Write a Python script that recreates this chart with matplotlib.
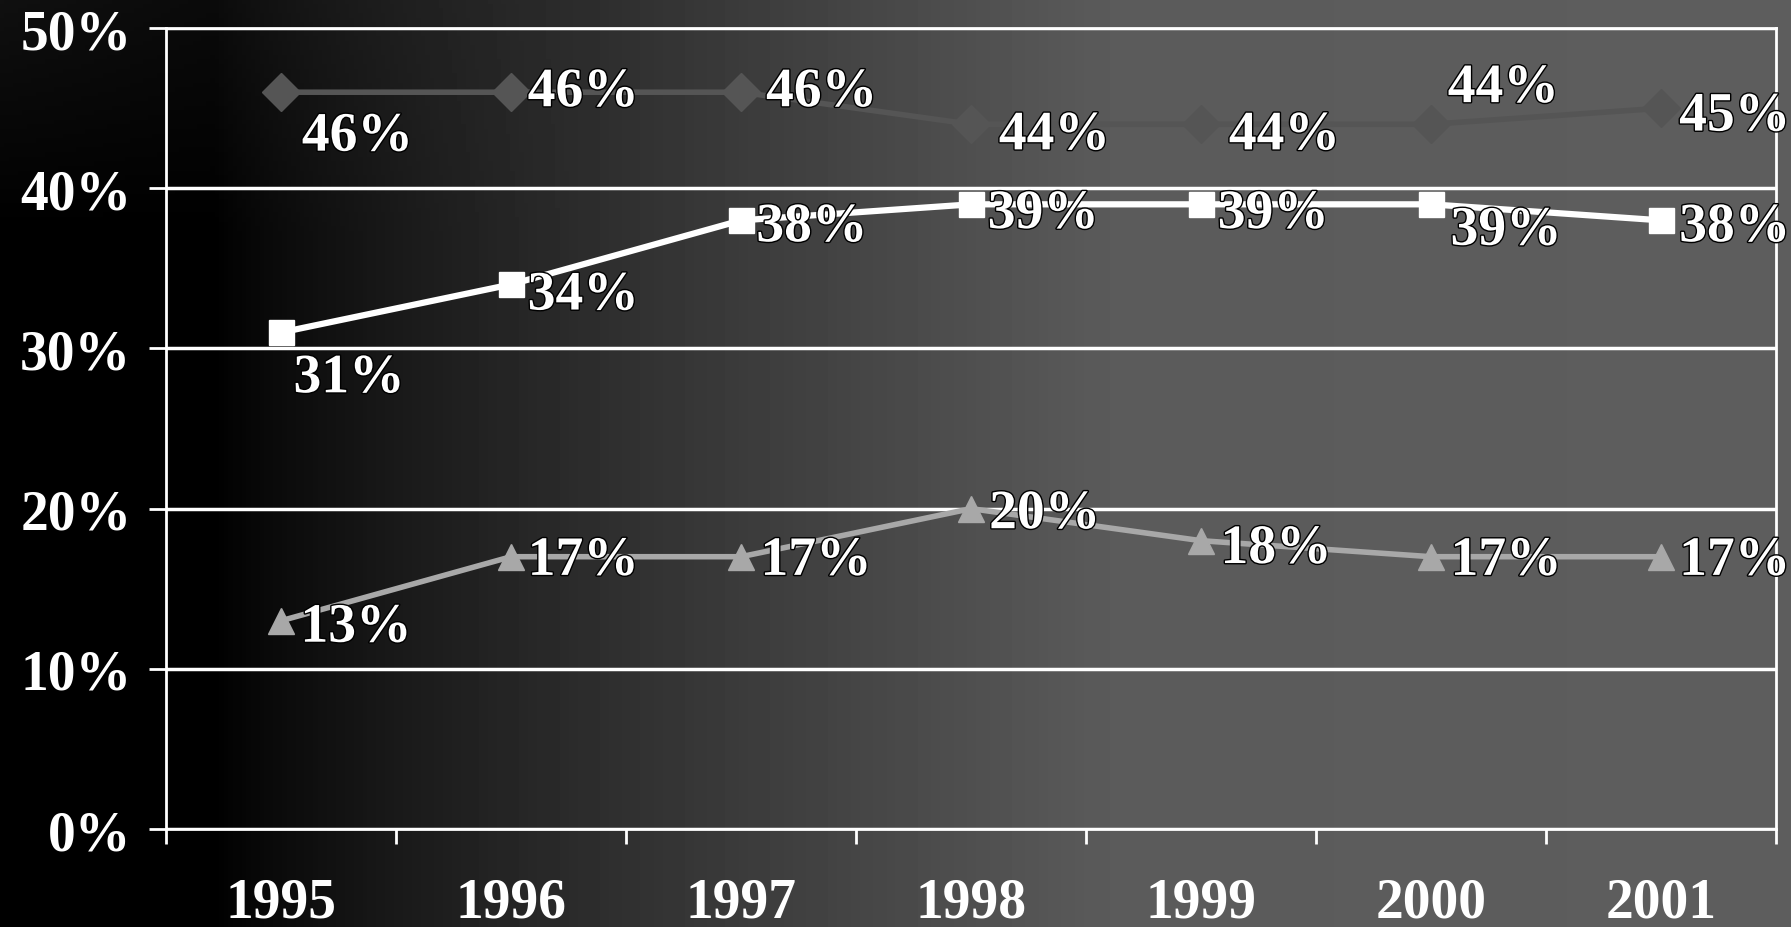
import matplotlib.pyplot as plt
import matplotlib.patheffects as pe
import numpy as np

# Data
years = ['1995', '1996', '1997', '1998', '1999', '2000', '2001']
diamond_vals = [46, 46, 46, 44, 44, 44, 45]
square_vals = [31, 34, 38, 39, 39, 39, 38]
triangle_vals = [13, 17, 17, 20, 18, 17, 17]
y_ticks = [0, 10, 20, 30, 40, 50]

# label offsets in points (dx to left edge, dy to centre)
diamond_offsets = [(15, -32), (12, 0), (18, 0), (20, -8), (20, -8), (12, 26), (13, -6)]
square_offsets = [(9, -33), (12, -8), (11, -5), (12, -7), (12, -7), (14, -19), (13, -5)]
triangle_offsets = [(14, -5), (12, -3), (14, -3), (13, -4), (14, -6), (14, -3), (13, -3)]

plt.rcParams['font.family'] = ['Liberation Serif', 'DejaVu Serif']
plt.rcParams['font.weight'] = 'bold'

fig = plt.figure(figsize=(17.91, 9.28), dpi=100)

# Background gradient, black on the left to grey on the right
bg = fig.add_axes([0, 0, 1, 1])
gx = np.linspace(0, 1, 400)
gy = np.linspace(0, 1, 200)
GX, GY = np.meshgrid(gx, gy)
shade = np.clip((GX - 0.12) / 0.5, 0, 1) ** 0.8 * 0.34 + np.clip(GY - 0.75, 0, 1) * 0.25 * (1 - np.clip(GX * 3, 0, 1))
shade = np.clip(shade + 0.03 * np.clip(GX - 0.1, 0, 1), 0, 0.40)
bg.imshow(shade, cmap='gray', vmin=0, vmax=1, aspect='auto', origin='lower', extent=[0, 1, 0, 1])
bg.axis('off')

ax = fig.add_axes([0.0927, 0.1056, 0.899, 0.863])
ax.patch.set_alpha(0)

x = np.arange(len(years))
ax.plot(x, diamond_vals, color='#555555', lw=4, marker='D', markersize=19, zorder=3)
ax.plot(x, square_vals, color='white', lw=4.5, marker='s', markersize=18, zorder=4)
ax.plot(x, triangle_vals, color='#a8a8a8', lw=4, marker='^', markersize=19, zorder=4)

shadow = [pe.withStroke(linewidth=2, foreground='black')]
for vals, offs in [(diamond_vals, diamond_offsets), (square_vals, square_offsets), (triangle_vals, triangle_offsets)]:
    for i, v in enumerate(vals):
        ax.annotate(f'{v}%', (x[i], v), xytext=offs[i], textcoords='offset points',
                    ha='left', va='center', color='white', fontsize=40, fontweight='bold',
                    path_effects=shadow, zorder=6)

ax.set_xlim(-0.5, len(years) - 0.5)
ax.set_ylim(0, 50)
ax.set_yticks(y_ticks)
ax.set_yticklabels([f'{t}%' for t in y_ticks])
ax.set_xticks(np.arange(len(years) + 1) - 0.5)
ax.set_xticklabels([])
ax.set_xticks(x, minor=True)
ax.set_xticklabels(years, minor=True)
ax.tick_params(axis='x', which='minor', length=0, pad=34, labelsize=40, labelcolor='white')
ax.tick_params(axis='x', which='major', length=11, width=2, color='white', direction='out')
ax.tick_params(axis='y', length=12, width=2, color='white', pad=13, labelsize=40, labelcolor='white')

ax.grid(axis='y', color='white', lw=2.5)
for s in ax.spines.values():
    s.set_color('white')
    s.set_linewidth(2)

fig.savefig('out.png', dpi=100)
